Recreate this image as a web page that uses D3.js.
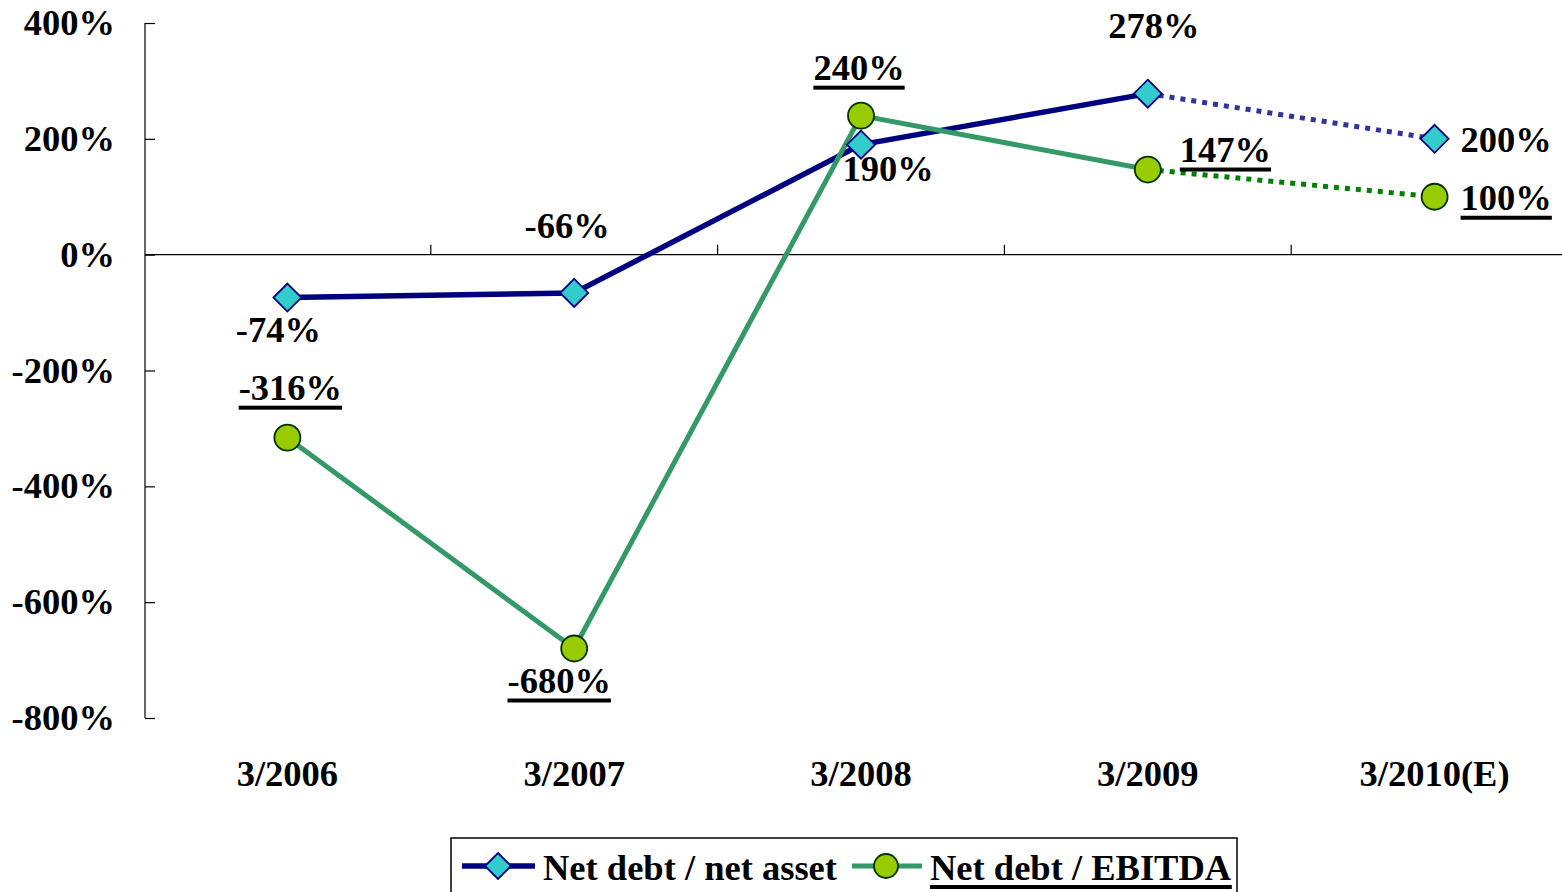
<!DOCTYPE html>
<html>
<head>
<meta charset="utf-8">
<script src="https://cdn.jsdelivr.net/npm/d3@7"></script>
<style>
  html, body { margin: 0; padding: 0; background: #ffffff; }
  svg { display: block; }
  text { font-family: "Liberation Serif", "Times New Roman", serif; font-weight: bold; fill: #000; }
</style>
</head>
<body>
<svg id="chart" width="1562" height="892"></svg>
<script>
// Fiscal year-ends (last one is an estimate)
const categories = ["3/2006", "3/2007", "3/2008", "3/2009", "3/2010(E)"];
// Net debt / net asset, %
const netDebtNetAsset = [-74, -66, 190, 278, 200];
// Net debt / EBITDA, %
const netDebtEbitda = [-316, -680, 240, 147, 100];
// Y axis ticks, %
const yTicks = [400, 200, 0, -200, -400, -600, -800];
const seriesNames = ["Net debt / net asset", "Net debt / EBITDA"];

// Where each value label sits relative to its point
const assetLabelPlace = [
  { dx: -9, dy: 44, anchor: "middle" },
  { dx: -7, dy: -55, anchor: "middle" },
  { dx: 27, dy: 36, anchor: "middle" },
  { dx: 6, dy: -56, anchor: "middle" },
  { dx: 26, dy: 13, anchor: "start" }
];
const ebitdaLabelPlace = [
  { dx: 3, dy: -38, anchor: "middle" },
  { dx: -15, dy: 44, anchor: "middle" },
  { dx: -2, dy: -36, anchor: "middle" },
  { dx: 32, dy: -8, anchor: "start" },
  { dx: 26, dy: 13, anchor: "start" }
];

const svg = d3.select("#chart");
const FONT = 36.5;

const x = d3.scaleBand().domain(categories).range([144, 1578]).paddingInner(0).paddingOuter(0);
const y = d3.scaleLinear().domain([-800, 400]).range([718, 23]);
const cx = d => x(d) + x.bandwidth() / 2;

// Y axis: vertical line with ticks pointing into the plot
const yAxis = svg.append("g").attr("transform", "translate(145,0)")
  .call(d3.axisRight(y).tickValues(yTicks).tickSize(10).tickFormat(""));
yAxis.select(".domain").attr("stroke", "#000").attr("stroke-width", 1.2).attr("d", `M0,${y(400)}V${y(-800)}`);
yAxis.selectAll(".tick line").attr("stroke", "#000").attr("stroke-width", 1.2);

svg.append("g").selectAll("text").data(yTicks).join("text")
  .attr("x", 115).attr("y", d => y(d) + 12)
  .attr("text-anchor", "end").attr("font-size", FONT)
  .text(d => d + "%");

// Category axis along zero, ticks between categories pointing up
const xAxis = svg.append("g").attr("transform", `translate(0,${y(0)})`)
  .call(d3.axisTop(x).tickSize(0).tickFormat(""));
xAxis.select(".domain").attr("stroke", "#000").attr("stroke-width", 1.2).attr("d", `M145,0H1562`);
svg.append("g").selectAll("line").data(categories.slice(1)).join("line")
  .attr("x1", d => x(d)).attr("x2", d => x(d))
  .attr("y1", y(0) - 10).attr("y2", y(0))
  .attr("stroke", "#000").attr("stroke-width", 1.2);

svg.append("g").selectAll("text").data(categories).join("text")
  .attr("x", d => cx(d)).attr("y", 786)
  .attr("text-anchor", "middle").attr("font-size", FONT)
  .text(d => d);

const line = d3.line().x(d => cx(d.c)).y(d => y(d.v));
const toPts = vals => vals.map((v, i) => ({ c: categories[i], v }));
const assetPts = toPts(netDebtNetAsset);
const ebitdaPts = toPts(netDebtEbitda);

// Actuals solid, estimate segment dotted
svg.append("path").attr("d", line(assetPts.slice(0, 4)))
  .attr("fill", "none").attr("stroke", "#000080").attr("stroke-width", 5.5).attr("stroke-linejoin", "round");
svg.append("path").attr("d", line(assetPts.slice(3)))
  .attr("fill", "none").attr("stroke", "#333399").attr("stroke-width", 5).attr("stroke-dasharray", "5,6");
svg.append("path").attr("d", line(ebitdaPts.slice(0, 4)))
  .attr("fill", "none").attr("stroke", "#339966").attr("stroke-width", 5).attr("stroke-linejoin", "round");
svg.append("path").attr("d", line(ebitdaPts.slice(3)))
  .attr("fill", "none").attr("stroke", "#008000").attr("stroke-width", 5).attr("stroke-dasharray", "5,6");

const diamond = r => `M0,${-r}L${r},0L0,${r}L${-r},0Z`;

svg.append("g").selectAll("path").data(assetPts).join("path")
  .attr("transform", d => `translate(${cx(d.c)},${y(d.v)})`)
  .attr("d", diamond(14))
  .attr("fill", "#33CCCC").attr("stroke", "#000080").attr("stroke-width", 1.8);

svg.append("g").selectAll("circle").data(ebitdaPts).join("circle")
  .attr("cx", d => cx(d.c)).attr("cy", d => y(d.v)).attr("r", 13)
  .attr("fill", "#99CC00").attr("stroke", "#003300").attr("stroke-width", 1.8);

// Value labels; EBITDA labels are underlined
function drawLabels(pts, place, underline) {
  pts.forEach((d, i) => {
    const p = place[i];
    const t = svg.append("text")
      .attr("x", cx(d.c) + p.dx).attr("y", y(d.v) + p.dy)
      .attr("text-anchor", p.anchor).attr("font-size", FONT)
      .text(d.v + "%");
    if (underline) {
      const b = t.node().getBBox();
      svg.append("rect").attr("x", b.x).attr("y", y(d.v) + p.dy + 6)
        .attr("width", b.width).attr("height", 4).attr("fill", "#000");
    }
  });
}
drawLabels(assetPts, assetLabelPlace, false);
drawLabels(ebitdaPts, ebitdaLabelPlace, true);

// Legend
const lg = svg.append("g");
lg.append("rect").attr("x", 451).attr("y", 838).attr("width", 786).attr("height", 70)
  .attr("fill", "#fff").attr("stroke", "#000").attr("stroke-width", 1.5);
lg.append("line").attr("x1", 462).attr("x2", 535).attr("y1", 866).attr("y2", 866)
  .attr("stroke", "#000080").attr("stroke-width", 5.5);
lg.append("path").attr("transform", "translate(498,866)").attr("d", diamond(13))
  .attr("fill", "#33CCCC").attr("stroke", "#000080").attr("stroke-width", 1.8);
lg.append("text").attr("x", 543).attr("y", 880).attr("font-size", FONT).text(seriesNames[0]);
lg.append("line").attr("x1", 852).attr("x2", 922).attr("y1", 866).attr("y2", 866)
  .attr("stroke", "#339966").attr("stroke-width", 5);
lg.append("circle").attr("cx", 886).attr("cy", 866).attr("r", 12)
  .attr("fill", "#99CC00").attr("stroke", "#003300").attr("stroke-width", 1.8);
const lt = lg.append("text").attr("x", 930).attr("y", 880).attr("font-size", FONT).text(seriesNames[1]);
const lb = lt.node().getBBox();
lg.append("rect").attr("x", lb.x).attr("y", 885).attr("width", lb.width).attr("height", 4).attr("fill", "#000");
</script>
</body>
</html>
